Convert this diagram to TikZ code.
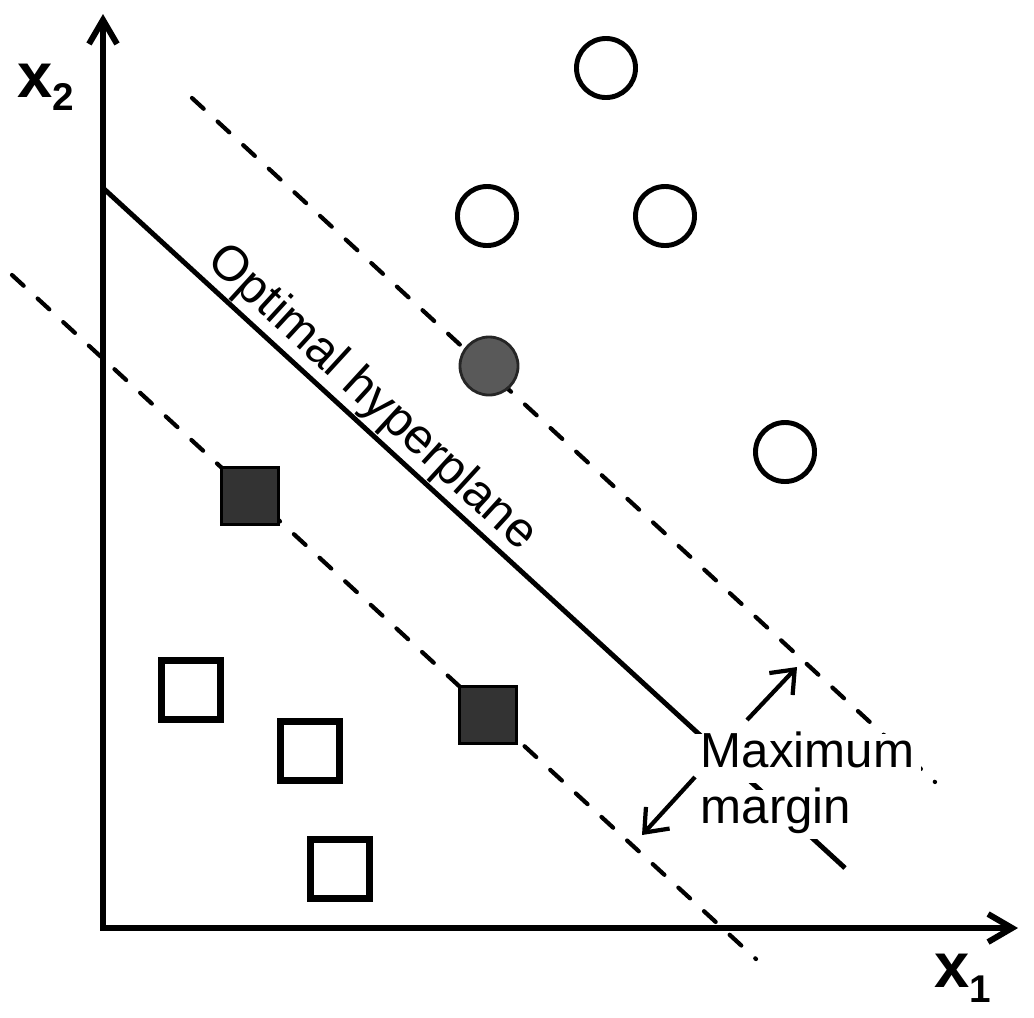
\documentclass[tikz,border=0pt]{standalone}
\usepackage{fontspec}
\setmainfont{Liberation Sans}
\usepackage{tikz}
\usetikzlibrary{arrows.meta}

\begin{document}
\begin{tikzpicture}[x=0.01cm, y=-0.01cm,
    % --- point styles ---
    opencirc/.style={circle, draw=black, line width=1.4pt,
        minimum size=0.59cm, inner sep=0pt},
    fillcirc/.style={circle, draw=black!85, fill=black!65, line width=0.8pt,
        minimum size=0.58cm, inner sep=0pt},
    opensq/.style={rectangle, draw=black, line width=2pt,
        minimum size=0.59cm, inner sep=0pt},
    fillsq/.style={rectangle, draw=black, fill=black!80, line width=0.8pt,
        minimum size=0.57cm, inner sep=0pt},
    % --- line styles ---
    axis/.style={line width=1.7pt,
        {Straight Barb[length=2.4mm, width=2.8mm]}-{Straight Barb[length=2.4mm, width=2.8mm]}},
    hyper/.style={line width=1.4pt},
    marg/.style={line width=1.2pt, line cap=round, dash pattern=on 4.5pt off 5.4pt},
    arr/.style={line width=1.2pt, -{Straight Barb[length=2mm, width=3.2mm]}},
    % --- label styles ---
    lbl/.style={font=\fontsize{14}{16}\selectfont, inner sep=2pt},
    axlbl/.style={font=\fontsize{18}{18}\selectfont\bfseries, inner sep=0pt}
]
\useasboundingbox (0,0) rectangle (1034,1017);

%%% ================= AXES =================
\coordinate (o) at (103,928);
\coordinate (ytip) at (103,14);
\coordinate (xtip) at (1018,928);
\draw [axis] (ytip) -- (o) -- (xtip);

\node (x2lbl) [axlbl, anchor=base west] at (17,97)
    {x\raisebox{-0.13cm}{\fontsize{11}{11}\selectfont 2}};
\node (x1lbl) [axlbl, anchor=base west] at (934,987)
    {x\raisebox{-0.15cm}{\fontsize{11}{11}\selectfont 1}};

%%% ================= HYPERPLANE AND MARGINS =================
\coordinate (hA) at (103,188);
\coordinate (hB) at (845,868);
\coordinate (uA) at (192,98);
\coordinate (uB) at (935,782);
\coordinate (lA) at (12,275);
\coordinate (lB) at (756,959);

\draw [marg] (uA) -- (uB);
\draw [marg] (lA) -- (lB);
\draw [hyper] (hA) -- (hB);

%%% ================= CLASS A: CIRCLES =================
\node (c1) [opencirc] at (606,68) {};
\node (c2) [opencirc] at (487,216) {};
\node (c3) [opencirc] at (665,216) {};
\node (c4) [opencirc] at (785,452) {};
\node (sv1) [fillcirc] at (489,366) {};

%%% ================= CLASS B: SQUARES =================
\node (s1) [opensq] at (191,690) {};
\node (s2) [opensq] at (310,751) {};
\node (s3) [opensq] at (340,869) {};
\node (sv2) [fillsq] at (250,496) {};
\node (sv3) [fillsq] at (488,715) {};

%%% ================= LABELS =================
\path (hA) -- (hB) node (hyplbl) [lbl, sloped, above, pos=0.338, inner sep=0.8pt]
    {Optimal hyperplane};

\node (maxlbl) [lbl, fill=white, anchor=base west, text height=0.75em, text depth=0.25em]
    at (693,767) {Maximum};
\node (marglbl) [lbl, fill=white, anchor=base west, text height=0.75em, text depth=0.25em]
    at (693,823) {margin};

%%% ================= MARGIN ARROWS =================
\coordinate (upTail) at (747,720);
\coordinate (upTip) at (797,667);
\coordinate (loTail) at (695,777);
\coordinate (loTip) at (642,835);
\draw [arr] (upTail) -- (upTip);
\draw [arr] (loTail) -- (loTip);

\end{tikzpicture}
\end{document}
